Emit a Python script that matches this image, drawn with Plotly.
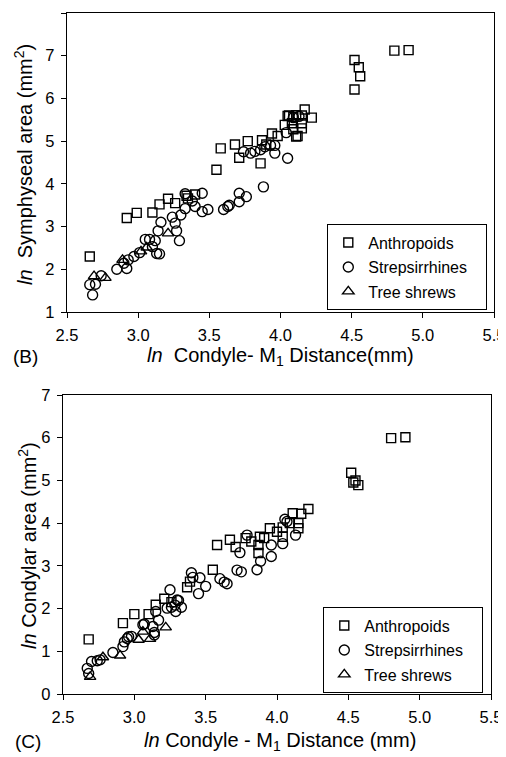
import plotly.graph_objects as go

# ---------------- Panel (B): ln symphyseal area vs ln condyle-M1 distance
b_anth_x = [2.66, 2.92, 2.99, 3.10, 3.15, 3.21, 3.26, 3.34, 3.35, 3.40, 3.55, 3.58, 3.68, 3.71, 3.77,
            3.86, 3.87, 3.90, 3.94, 3.98, 4.03, 4.05, 4.06, 4.08, 4.09, 4.09, 4.11, 4.11, 4.12, 4.15,
            4.15, 4.15, 4.17, 4.22, 4.52, 4.52, 4.55, 4.56, 4.80, 4.90]
b_anth_y = [2.30, 3.20, 3.32, 3.33, 3.52, 3.65, 3.55, 3.72, 3.66, 3.75, 4.33, 4.83, 4.92, 4.61, 5.00,
            4.48, 5.02, 4.92, 5.18, 5.12, 5.38, 5.59, 5.60, 5.42, 5.57, 5.28, 5.61, 5.11, 5.12, 5.42,
            5.30, 5.60, 5.74, 5.55, 6.90, 6.21, 6.73, 6.52, 7.12, 7.13]

b_strep_x = [2.66, 2.70, 2.68, 2.74, 2.85, 2.90, 2.93, 2.92, 2.97, 3.01, 3.05, 3.08, 3.12, 3.10, 3.13,
             3.15, 3.14, 3.16, 3.24, 3.26, 3.27, 3.29, 3.30, 3.33, 3.33, 3.45, 3.40, 3.45, 3.49, 3.38,
             3.60, 3.63, 3.64, 3.71, 3.71, 3.76, 3.88, 3.74, 3.79, 3.82, 3.86, 3.89, 3.93, 3.96, 3.96,
             4.05, 4.04, 4.09, 4.13]
b_strep_y = [1.64, 1.65, 1.40, 1.85, 2.00, 2.14, 2.22, 2.02, 2.30, 2.39, 2.70, 2.70, 2.67, 2.53, 2.37,
             2.36, 2.90, 3.10, 3.22, 3.08, 2.90, 2.67, 3.27, 3.42, 3.77, 3.78, 3.47, 3.35, 3.40, 3.60,
             3.40, 3.47, 3.50, 3.58, 3.78, 3.70, 3.93, 4.75, 4.72, 4.76, 4.80, 4.87, 4.90, 4.90, 4.72,
             4.60, 5.20, 5.55, 5.58]

b_tree_x = [2.69, 2.77, 2.89, 3.02, 3.06, 3.21]
b_tree_y = [1.84, 1.80, 2.22, 2.42, 2.51, 2.84]

# ---------------- Panel (C): ln condylar area vs ln condyle-M1 distance
c_anth_x = [2.68, 2.92, 3.00, 3.10, 3.15, 3.21, 3.26, 3.37, 3.39, 3.55, 3.58, 3.67, 3.71, 3.78, 3.82,
            3.87, 3.87, 3.88, 3.91, 3.95, 4.00, 4.04, 4.04, 4.09, 4.11, 4.15, 4.15, 4.17, 4.22, 4.52,
            4.535, 4.55, 4.57, 4.80, 4.90]
c_anth_y = [1.28, 1.66, 1.87, 1.87, 2.09, 2.23, 2.15, 2.50, 2.63, 2.91, 3.49, 3.61, 3.44, 3.65, 3.57,
            3.49, 3.30, 3.68, 3.65, 3.88, 3.80, 3.68, 3.90, 4.00, 4.23, 4.00, 3.88, 4.22, 4.33, 5.18,
            4.95, 5.00, 4.89, 5.99, 6.01]

c_strep_x = [2.67, 2.68, 2.70, 2.74, 2.76, 2.85, 2.92, 2.93, 2.95, 2.96, 2.98, 3.06, 3.07, 3.14, 3.14,
             3.13, 3.17, 3.15, 3.25, 3.23, 3.26, 3.285, 3.30, 3.29, 3.33, 3.31, 3.40, 3.41, 3.46, 3.45,
             3.50, 3.60, 3.63, 3.65, 3.72, 3.75, 3.74, 3.79, 3.86, 3.885, 3.96, 3.96, 4.04, 4.055, 4.07,
             4.13]
c_strep_y = [0.60, 0.48, 0.76, 0.78, 0.80, 0.97, 1.11, 1.22, 1.30, 1.34, 1.35, 1.62, 1.64, 1.38, 1.44,
             1.58, 1.73, 1.93, 2.44, 2.01, 2.03, 2.08, 2.20, 1.93, 2.03, 2.19, 2.84, 2.73, 2.72, 2.35,
             2.52, 2.70, 2.62, 2.58, 2.90, 2.86, 3.31, 3.72, 2.91, 3.11, 3.22, 3.49, 3.52, 4.09, 4.04,
             3.72]

c_tree_x = [2.69, 2.78, 2.90, 3.03, 3.06, 3.11, 3.22]
c_tree_y = [0.40, 0.86, 0.90, 1.27, 1.46, 1.29, 1.56]

x_ticks = [2.5, 3.0, 3.5, 4.0, 4.5, 5.0, 5.5]
x_tick_labels = ["2.5", "3.0", "3.5", "4.0", "4.5", "5.0", "5.5"]
b_y_ticks = [1, 2, 3, 4, 5, 6, 7, 8]
c_y_ticks = [0, 1, 2, 3, 4, 5, 6, 7]

group_names = ["Anthropoids", "Strepsirrhines", "Tree shrews"]
group_symbols = ["square-open", "circle-open", "triangle-up-open"]
group_sizes = [9, 10, 10]

# the page body adds an 8 px margin, so the figure is drawn 8 px smaller and
# every target pixel position is shifted by that offset
PAGE_OFF = 8
W, H = 506 - PAGE_OFF, 757 - PAGE_OFF
FONT = "Liberation Sans, Arial, sans-serif"

fig = go.Figure()

panels = [
    ("x", "y", "legend", [(b_anth_x, b_anth_y), (b_strep_x, b_strep_y), (b_tree_x, b_tree_y)]),
    ("x2", "y2", "legend2", [(c_anth_x, c_anth_y), (c_strep_x, c_strep_y), (c_tree_x, c_tree_y)]),
]
for xa, ya, leg, series in panels:
    for (xs, ys), name, sym, sz in zip(series, group_names, group_symbols, group_sizes):
        fig.add_trace(go.Scatter(
            x=xs, y=ys, mode="markers", xaxis=xa, yaxis=ya, legend=leg,
            name='<span style="font-size:16px">' + name + '&nbsp;&nbsp;&nbsp;</span>',
            marker=dict(symbol=sym, size=sz, color="black",
                        line=dict(width=1.4, color="black")),
        ))


def px_x(p):
    return (p - PAGE_OFF) / W


def px_y(p):
    return 1 - (p - PAGE_OFF) / H


axis_common = dict(
    showline=True, linecolor="black", linewidth=1.3, mirror=True,
    ticks="outside", ticklen=5, tickwidth=1.3, tickcolor="black",
    showgrid=False, zeroline=False, automargin=False,
    tickfont=dict(family=FONT, size=16.5, color="black"),
    ticklabelstandoff=3,
)

fig.update_layout(
    template="none",
    width=W, height=H,
    margin=dict(l=0, r=0, t=0, b=0, autoexpand=False),
    paper_bgcolor="white", plot_bgcolor="white",
    font=dict(family=FONT, color="black"),
    xaxis=dict(domain=[px_x(67), px_x(494)], anchor="y", range=[2.5, 5.5],
               tickvals=x_ticks, ticktext=x_tick_labels, **axis_common),
    yaxis=dict(domain=[px_y(312), px_y(13)], anchor="x", range=[1, 8],
               tickvals=b_y_ticks, **axis_common),
    xaxis2=dict(domain=[px_x(63), px_x(491)], anchor="y2", range=[2.5, 5.5],
                tickvals=x_ticks, ticktext=x_tick_labels, **axis_common),
    yaxis2=dict(domain=[px_y(694), px_y(395)], anchor="x2", range=[0, 7],
                tickvals=c_y_ticks, **axis_common),
    legend=dict(x=px_x(327), y=px_y(224), xanchor="left", yanchor="top",
                bgcolor="white", bordercolor="black", borderwidth=1.3,
                font=dict(family=FONT, size=16.5, color="black"), itemwidth=30),
    legend2=dict(x=px_x(323), y=px_y(607), xanchor="left", yanchor="top",
                 bgcolor="white", bordercolor="black", borderwidth=1.3,
                 font=dict(family=FONT, size=16.5, color="black"), itemwidth=30),
)

title_font = dict(family=FONT, size=20, color="black")
label_font = dict(family=FONT, size=19, color="black")
annotations = [
    dict(text="(B)", x=px_x(11), y=px_y(356), xanchor="left", yanchor="middle", font=label_font),
    dict(text="<i>ln</i>  Condyle- M<sub>1</sub> Distance(mm)", x=px_x(280), y=px_y(356),
         xanchor="center", yanchor="middle", font=title_font),
    dict(text="<i>ln</i>  Symphyseal area (mm<sup>2</sup>)", x=px_x(24), y=px_y(165),
         xanchor="center", yanchor="middle", textangle=-90, font=title_font),
    dict(text="(C)", x=px_x(13), y=px_y(741), xanchor="left", yanchor="middle", font=label_font),
    dict(text="<i>ln</i> Condyle - M<sub>1</sub> Distance (mm)", x=px_x(280), y=px_y(741),
         xanchor="center", yanchor="middle", font=title_font),
    dict(text="<i>ln</i> Condylar area (mm<sup>2</sup>)", x=px_x(27), y=px_y(546),
         xanchor="center", yanchor="middle", textangle=-90, font=title_font),
]
for a in annotations:
    fig.add_annotation(xref="paper", yref="paper", showarrow=False, **a)

fig.write_html("out.html")
